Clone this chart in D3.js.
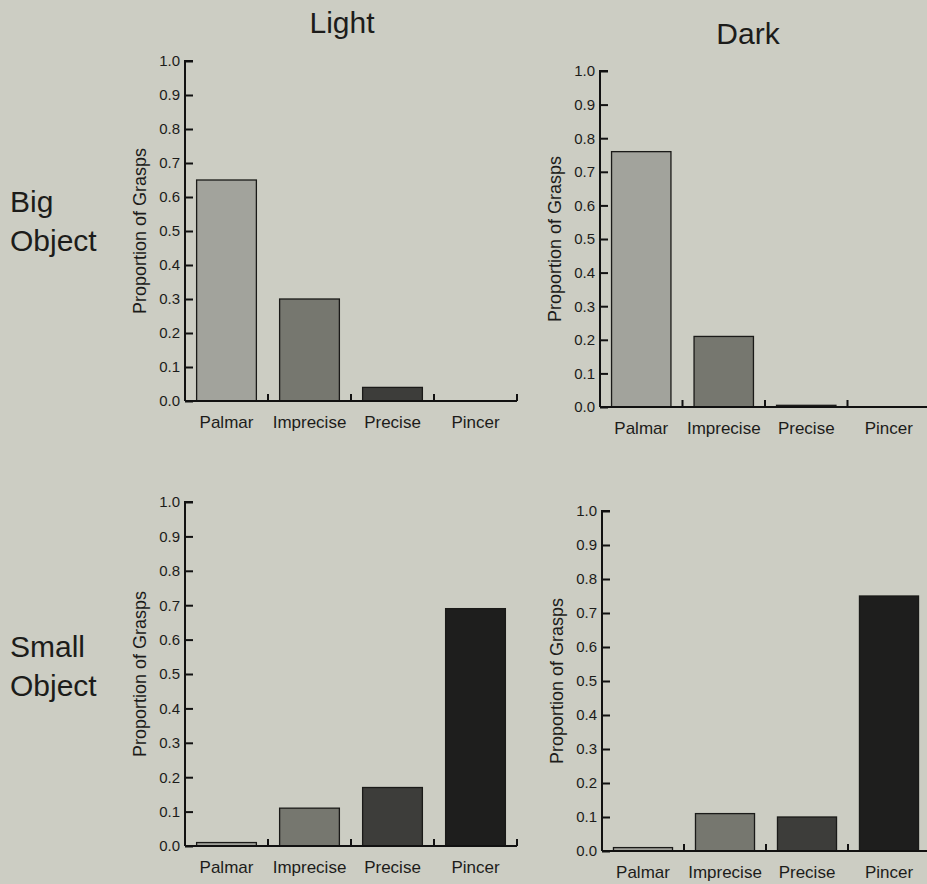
<!DOCTYPE html>
<html>
<head>
<meta charset="utf-8">
<script src="https://cdn.jsdelivr.net/npm/d3@7"></script>
<style>
  html, body { margin: 0; padding: 0; background: #cccdc3; }
  svg { display: block; }
  text { font-family: "Liberation Sans", Arial, Helvetica, sans-serif; fill: #1c1c1a; }
</style>
</head>
<body>
<svg id="chart" width="927" height="884"></svg>
<script>
// grasp categories and the four conditions
var categories = ["Palmar", "Imprecise", "Precise", "Pincer"];
var bigLight = [0.65, 0.30, 0.04, 0];
var bigDark = [0.76, 0.21, 0.005, 0];
var smallLight = [0.01, 0.11, 0.17, 0.69];
var smallDark = [0.01, 0.11, 0.10, 0.75];
var yTicks = [0, 0.1, 0.2, 0.3, 0.4, 0.5, 0.6, 0.7, 0.8, 0.9, 1.0];
var colTitles = ["Light", "Dark"];
var rowTitles = [["Big", "Object"], ["Small", "Object"]];

var barColors = ["#a2a39c", "#76776f", "#3d3d3a", "#1e1e1d"];

var svg = d3.select("#chart");

var panels = [
    {values: bigLight,   x0: 185, x1: 517, yTop: 61,  yBot: 401},
    {values: bigDark,    x0: 600, x1: 930, yTop: 71,  yBot: 407},
    {values: smallLight, x0: 185, x1: 517, yTop: 502, yBot: 846},
    {values: smallDark,  x0: 602, x1: 930, yTop: 511, yBot: 851}
];

panels.forEach(function(p) {
    var x = d3.scaleBand().domain(categories).range([p.x0, p.x1])
        .paddingInner(0.28).paddingOuter(0.14);
    var y = d3.scaleLinear().domain([0, 1]).range([p.yBot, p.yTop]);
    var g = svg.append("g");

    // bars
    g.selectAll("rect").data(p.values).enter().append("rect")
        .attr("x", function(d, i) { return x(categories[i]); })
        .attr("width", x.bandwidth())
        .attr("y", function(d) { return y(d); })
        .attr("height", function(d) { return p.yBot - y(d); })
        .attr("fill", function(d, i) { return barColors[i]; })
        .attr("stroke", "#1a1a18")
        .attr("stroke-width", 1.3);

    // y axis, ticks pointing inward
    var ya = g.append("g").attr("transform", "translate(" + p.x0 + ",0)")
        .call(d3.axisLeft(y).tickValues(yTicks).tickSize(-8).tickPadding(5)
            .tickFormat(d3.format(".1f")));
    ya.select(".domain").attr("stroke", "#111").attr("stroke-width", 2).attr("d",
        "M8," + p.yTop + "H0V" + p.yBot);
    ya.selectAll(".tick line").attr("stroke", "#111").attr("stroke-width", 2);
    ya.selectAll(".tick text").style("font-size", "15px").attr("fill", "#1c1c1a");

    // x axis: baseline with small upward ticks at band edges
    var xa = g.append("g").attr("transform", "translate(0," + p.yBot + ")")
        .call(d3.axisBottom(x).tickSize(0).tickPadding(15));
    xa.select(".domain").remove();
    xa.selectAll(".tick text").style("font-size", "17px").attr("fill", "#1c1c1a");
    g.append("line")
        .attr("x1", p.x0).attr("x2", p.x1)
        .attr("y1", p.yBot).attr("y2", p.yBot)
        .attr("stroke", "#111").attr("stroke-width", 2);
    var edges = d3.range(1, categories.length + 1).map(function(i) { return p.x0 + x.step() * i; });
    g.selectAll("line.edge").data(edges).enter().append("line")
        .attr("class", "edge")
        .attr("x1", function(d) { return d; }).attr("x2", function(d) { return d; })
        .attr("y1", p.yBot).attr("y2", p.yBot - 7)
        .attr("stroke", "#111").attr("stroke-width", 2);

    // y title
    g.append("text")
        .attr("transform", "translate(" + (p.x0 - 39) + "," + ((p.yTop + p.yBot) / 2) + ") rotate(-90)")
        .attr("text-anchor", "middle")
        .style("font-size", "18px")
        .text("Proportion of Grasps");
});

// column titles
svg.append("text").attr("x", 342).attr("y", 33).attr("text-anchor", "middle")
    .style("font-size", "30px").text(colTitles[0]);
svg.append("text").attr("x", 748).attr("y", 44).attr("text-anchor", "middle")
    .style("font-size", "30px").text(colTitles[1]);

// row titles
var rowBase = [212, 657];
rowTitles.forEach(function(r, i) {
    var t = svg.append("text").attr("x", 10).attr("y", rowBase[i]).style("font-size", "30px");
    t.append("tspan").attr("x", 10).text(r[0]);
    t.append("tspan").attr("x", 10).attr("dy", 39).text(r[1]);
});
</script>
</body>
</html>
